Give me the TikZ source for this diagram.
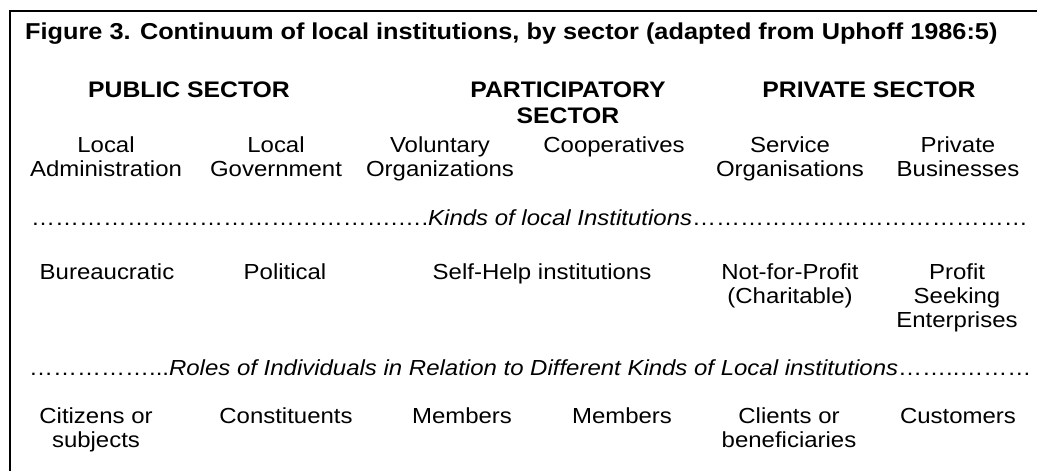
\documentclass[tikz,border=0pt]{standalone}
\usepackage{fontspec}
\setmainfont{Liberation Sans}[FakeStretch=1.1]
\begin{document}
\begin{tikzpicture}[x=1pt,y=-1pt,
  txt/.style={inner sep=0pt, align=center, anchor=base, font=\fontsize{21.8}{24}\selectfont},
  head/.style={txt, font=\fontsize{22.5}{26}\selectfont\bfseries},
  dots/.style={inner sep=0pt, anchor=base west, font=\fontsize{21.8}{24}\selectfont}]
\useasboundingbox (0,0) rectangle (1037,471);
\coordinate (fb) at (9.5,471);
\coordinate (fc) at (9.5,11);
\coordinate (fr) at (1037,11);
\draw[line width=2pt] (fb) -- (fc) -- (fr);
% title
\node[inner sep=0pt, anchor=base west, font=\fontsize{23}{26}\selectfont\bfseries] (title) at (25,39)
  {Figure 3. Continuum of local institutions, by sector (adapted from Uphoff 1986:5)};
% sector headings (base anchor = baseline of last line)
\node[head] (pub) at (189,97.5) {PUBLIC SECTOR};
\node[head] (par) at (568,123.5) {PARTICIPATORY\\SECTOR};
\node[head] (pri) at (869,97.5) {PRIVATE SECTOR};
% kinds of organisations
\node[txt] (la) at (106,176) {Local\\Administration};
\node[txt] (lg) at (276,176) {Local\\Government};
\node[txt] (vo) at (440,176) {Voluntary\\Organizations};
\node[txt] (co) at (614,152) {Cooperatives};
\node[txt] (so) at (790,176) {Service\\Organisations};
\node[txt] (pb) at (958,176) {Private\\Businesses};
% kinds line
\node[dots] (kinds) at (31,225) {……………………………………….….\textit{Kinds of local Institutions}……………………………………};
% kinds of institutions
\node[txt] (bu) at (107,279) {Bureaucratic};
\node[txt] (po) at (285,279) {Political};
\node[txt] (sh) at (542,279) {Self-Help institutions};
\node[txt] (nfp) at (790,303) {Not-for-Profit\\(Charitable)};
\node[txt] (pse) at (957,327) {Profit\\Seeking\\Enterprises};
% roles line
\node[dots] (roles) at (29,375) {……………...\textit{Roles of Individuals in Relation to Different Kinds of Local institutions}……..………};
% roles
\node[txt] (ci) at (96,447) {Citizens or\\subjects};
\node[txt] (cn) at (286,423) {Constituents};
\node[txt] (m1) at (462,423) {Members};
\node[txt] (m2) at (622,423) {Members};
\node[txt] (cl) at (789,447) {Clients or\\beneficiaries};
\node[txt] (cu) at (958,423) {Customers};
\end{tikzpicture}
\end{document}
